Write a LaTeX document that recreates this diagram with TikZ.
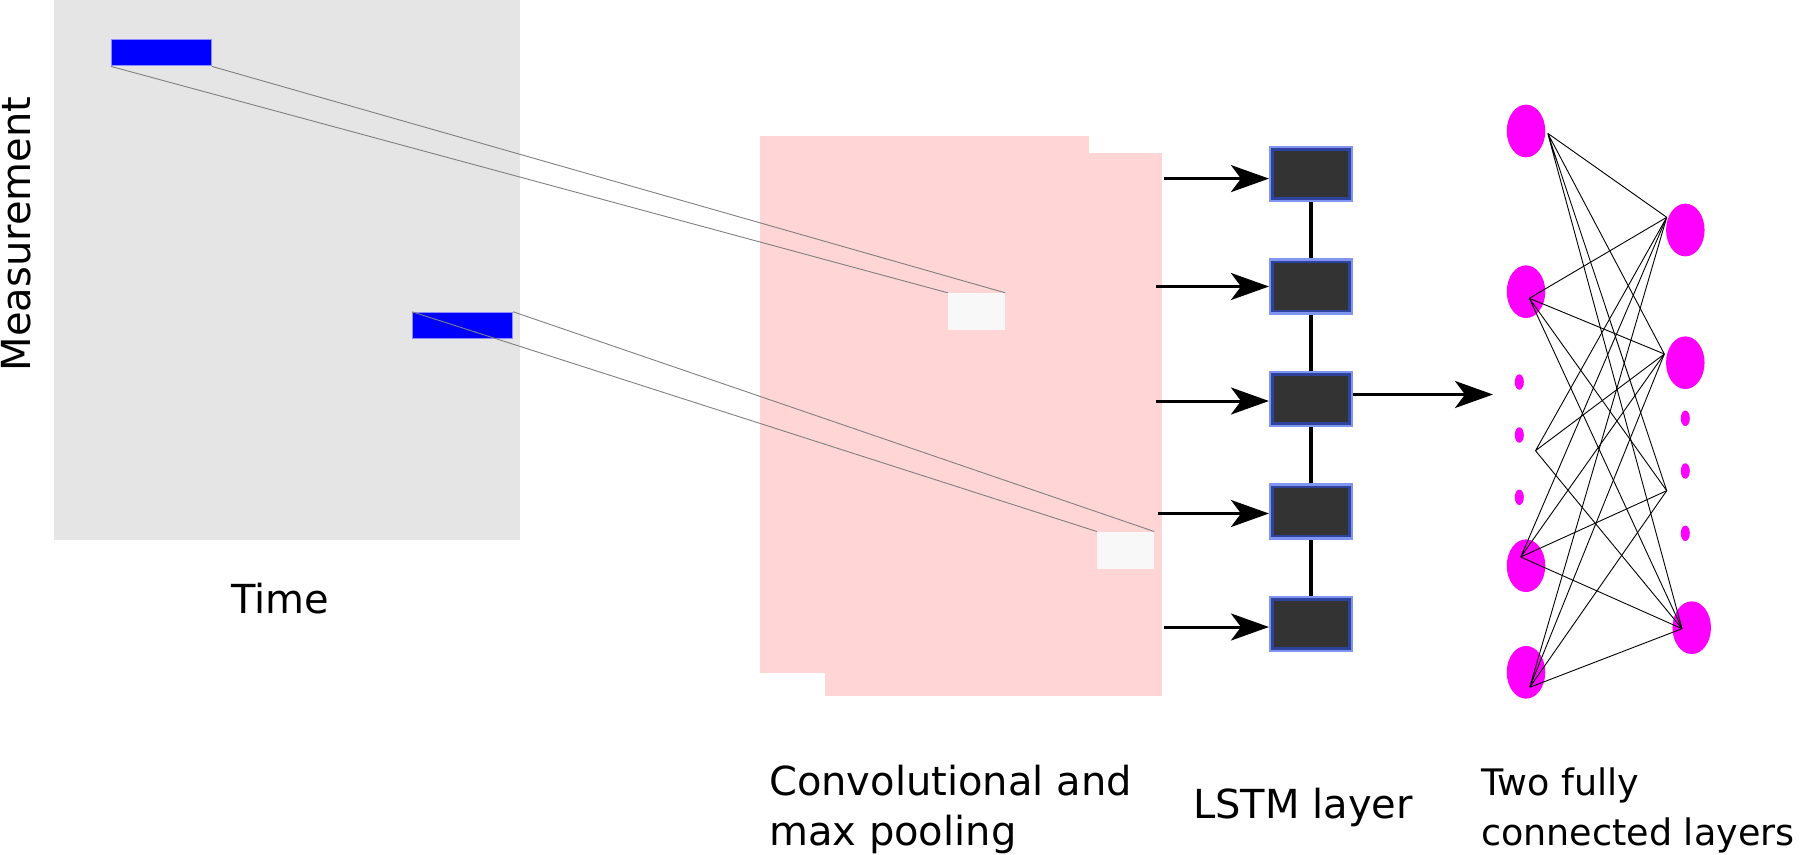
\documentclass[tikz,border=0pt]{standalone}
\usepackage{fontspec}
\setmainfont{DejaVu Sans}
\usetikzlibrary{arrows.meta,shapes.geometric}

\definecolor{bggray}{HTML}{E5E5E5}
\definecolor{convpink}{HTML}{FFD5D5}
\definecolor{winwhite}{HTML}{F8F8F8}
\definecolor{cellgray}{HTML}{333333}
\definecolor{cellblue}{rgb}{0.17,0.31,0.9}
\definecolor{neuronmag}{RGB}{255,0,255}
\definecolor{patchblue}{RGB}{0,0,255}

\begin{document}
\begin{tikzpicture}[x=1pt, y=-1pt,
        lbl/.style={font=\fontsize{40}{50}\selectfont, inner sep=0pt, align=left},
        patch/.style={draw=patchblue!45, line width=1pt, fill=patchblue, inner sep=0pt, minimum width=100pt, minimum height=26pt},
        win/.style={fill=winwhite, inner sep=0pt, minimum width=57pt, minimum height=37pt},
        proj/.style={gray, line width=0.9pt},
        cell/.style={draw=cellblue, draw opacity=0.6, line width=4.6pt, fill=cellgray, minimum width=79.5pt, minimum height=51.5pt},
        link/.style={line width=4pt},
        feed/.style={line width=3pt, -{Stealth[length=38pt, width=27pt, inset=10pt]}},
        neuron/.style={ellipse, fill=neuronmag, inner sep=0pt, minimum width=38.5pt, minimum height=52.7pt},
        dot/.style={ellipse, fill=neuronmag, inner sep=0pt, minimum width=9pt, minimum height=15.5pt},
        wire/.style={line width=0.9pt}]

        \useasboundingbox (0,0) rectangle (1819,854);

        % === Input: measurement x time ===
        \fill[bggray] (54,0) rectangle (520,540);
        \node[patch] (w1) at (161.4,52.9) {};
        \node[patch] (w2) at (462.7,325.3) {};

        \node[lbl, rotate=90] (ylab) at (16,234) {Measurement};
        \node[lbl, anchor=base] (xlab) at (280,613.5) {Time};

        % === Convolution and max pooling ===
        \fill[convpink] (760,136) rectangle (1089,673);
        \fill[convpink] (825,153) rectangle (1162,696);
        \node[win] (s1) at (976.5,311.5) {};
        \node[win] (s2) at (1125.5,550.2) {};

        \draw[proj] (w1.south west) -- (s1.north west);
        \draw[proj] (w1.south east) -- (s1.north east);
        \draw[proj] (w2.north west) -- (s2.north west);
        \draw[proj] (w2.north east) -- (s2.north east);

        \node[lbl, anchor=base west] (convlab) at (769,845) {Convolutional and\\max pooling};

        % === LSTM ===
        \node[cell] (c1) at (1311,174) {};
        \node[cell] (c2) at (1311,286.5) {};
        \node[cell] (c3) at (1311,399) {};
        \node[cell] (c4) at (1311,511.5) {};
        \node[cell] (c5) at (1311,624) {};

        \draw[link] (c1.south) -- (c2.north);
        \draw[link] (c2.south) -- (c3.north);
        \draw[link] (c3.south) -- (c4.north);
        \draw[link] (c4.south) -- (c5.north);

        \coordinate (in1) at (1163.5,178.6);
        \coordinate (in2) at (1156,286.5);
        \coordinate (in3) at (1156,401);
        \coordinate (in4) at (1158,513.5);
        \coordinate (in5) at (1163.5,627);

        \draw[feed] (in1) -- (in1 -| c1.west);
        \draw[feed] (in2) -- (in2 -| c2.west);
        \draw[feed] (in3) -- (in3 -| c3.west);
        \draw[feed] (in4) -- (in4 -| c4.west);
        \draw[feed] (in5) -- (in5 -| c5.west);

        \node[lbl, anchor=base west] (lstmlab) at (1193,818) {LSTM layer};

        % Freccia
        \coordinate (fc) at (1493,394.5);
        \draw[feed] (c3.east |- fc) -- (fc);

        % === Two fully connected layers ===
        \node[neuron] (n1) at (1526,131) {};
        \node[neuron] (n2) at (1526,291.7) {};
        \node[dot] (d1) at (1519.3,382) {};
        \node[dot] (d2) at (1519.3,435) {};
        \node[dot] (d3) at (1519.3,497.3) {};
        \node[neuron] (n4) at (1526,565.7) {};
        \node[neuron] (n5) at (1526,672.3) {};

        \node[neuron] (m1) at (1685.3,230) {};
        \node[neuron] (m2) at (1685.3,362.7) {};
        \node[dot] (e1) at (1685.3,418.3) {};
        \node[dot] (e2) at (1685.3,471) {};
        \node[dot] (e3) at (1685.3,533.3) {};
        \node[neuron] (m4) at (1691.7,627.7) {};

        \coordinate (a1) at (1547.7,133.3);
        \coordinate (a2) at (1529.3,298.3);
        \coordinate (a3) at (1535.5,450.7);
        \coordinate (a4) at (1520.7,557);
        \coordinate (a5) at (1529.7,687.3);
        \coordinate (b1) at (1666.7,217.3);
        \coordinate (b2) at (1664.3,354);
        \coordinate (b3) at (1666.7,490.7);
        \coordinate (b4) at (1682,628.7);

        \draw[wire] (a1) -- (b1) (a1) -- (b2) (a1) -- (b3) (a1) -- (b4);
        \draw[wire] (a2) -- (b1) (a2) -- (b2) (a2) -- (b3) (a2) -- (b4);
        \draw[wire] (a3) -- (b1) (a3) -- (b2) (a3) -- (b4);
        \draw[wire] (a4) -- (b1) (a4) -- (b2) (a4) -- (b3) (a4) -- (b4);
        \draw[wire] (a5) -- (b1) (a5) -- (b2) (a5) -- (b3) (a5) -- (b4);

        \node[lbl, font=\fontsize{36.5}{50}\selectfont, anchor=base west] (fclab) at (1481,845) {Two fully\\connected layers};

\end{tikzpicture}
\end{document}
